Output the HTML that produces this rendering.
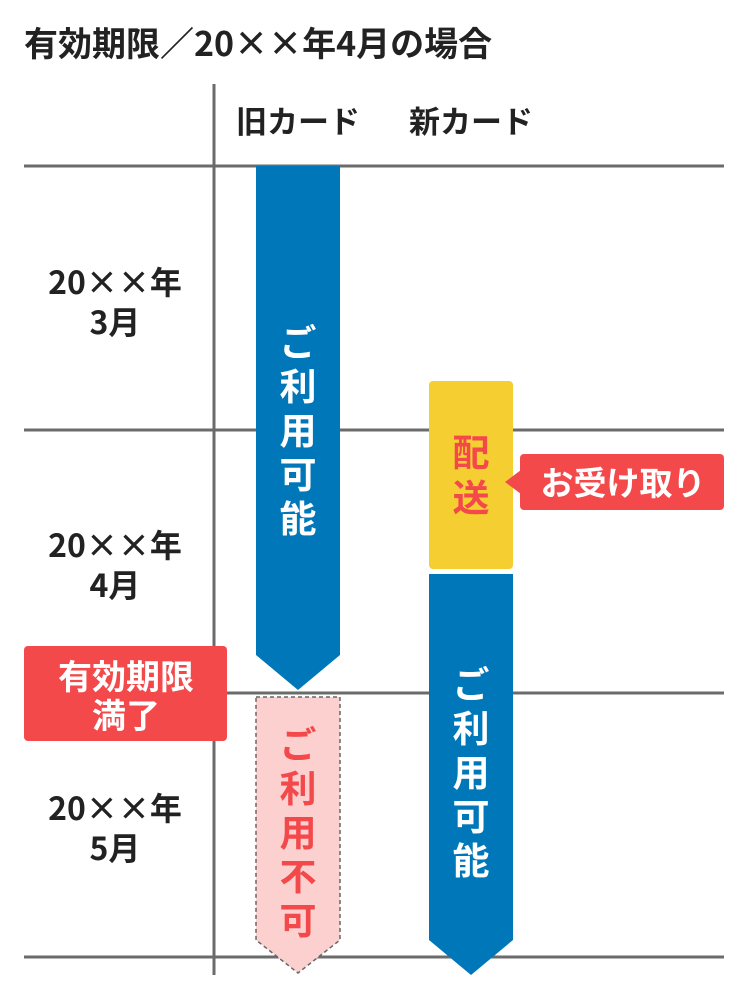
<!DOCTYPE html>
<html><head><meta charset="utf-8"><style>
body{margin:0;background:#fff}
svg text{font-family:"Noto Sans CJK JP","Liberation Sans",sans-serif;font-weight:bold}
</style></head><body>
<svg width="750" height="1000" viewBox="0 0 750 1000" xmlns="http://www.w3.org/2000/svg">
<rect width="750" height="1000" fill="#fff"/>
<text x="24" y="56" font-size="34" fill="#222">有効期限／20××年4月の場合</text>
<text x="298" y="133" font-size="31" fill="#222" text-anchor="middle">旧カード</text>
<text x="471" y="133" font-size="31" fill="#222" text-anchor="middle">新カード</text>
<g stroke="#6b6b6b" stroke-width="3">
<line x1="24" y1="166" x2="724" y2="166"/>
<line x1="24" y1="430" x2="724" y2="430"/>
<line x1="24" y1="693" x2="724" y2="693"/>
<line x1="24" y1="957" x2="724" y2="957"/>
<line x1="214" y1="84" x2="214" y2="975"/>
</g>
<g font-size="32" fill="#222" text-anchor="middle">
<text x="115" y="294">20××年</text><text x="115" y="334">3月</text>
<text x="115" y="557">20××年</text><text x="115" y="597">4月</text>
<text x="115" y="820">20××年</text><text x="115" y="860">5月</text>
</g>
<polygon points="256,166 340,166 340,655 298,690 256,655" fill="#0077b9"/>
<polygon points="256,697 340,697 340,940 298,973 256,940" fill="#fdd0d0" stroke="#666" stroke-width="1.5" stroke-dasharray="4,3"/>
<rect x="429" y="381" width="84" height="188" rx="4" fill="#f5cf31"/>
<polygon points="429,574 513,574 513,940 471,975 429,940" fill="#0077b9"/>
<rect x="520" y="454" width="204" height="56" rx="4" fill="#f3494b"/>
<polygon points="521,470 505,482 521,494" fill="#f3494b"/>
<text x="623" y="495" font-size="33" fill="#fff" text-anchor="middle">お受け取り</text>
<rect x="24" y="646" width="203" height="95" rx="4" fill="#f3494b"/>
<text x="126" y="689" font-size="34" fill="#fff" text-anchor="middle">有効期限</text>
<text x="126" y="728" font-size="34" fill="#fff" text-anchor="middle">満了</text>
<g font-size="37" text-anchor="middle" fill="#fff">
<text x="298" y="356">ご</text><text x="298" y="400">利</text><text x="298" y="444">用</text><text x="298" y="488">可</text><text x="298" y="532">能</text>
<text x="471" y="698">ご</text><text x="471" y="742">利</text><text x="471" y="786">用</text><text x="471" y="830">可</text><text x="471" y="874">能</text>
</g>
<g font-size="37" text-anchor="middle" fill="#f3494b">
<text x="298" y="758">ご</text><text x="298" y="802">利</text><text x="298" y="846">用</text><text x="298" y="890">不</text><text x="298" y="934">可</text>
<text x="471" y="466">配</text><text x="471" y="511">送</text>
</g>
</svg>
</body></html>
